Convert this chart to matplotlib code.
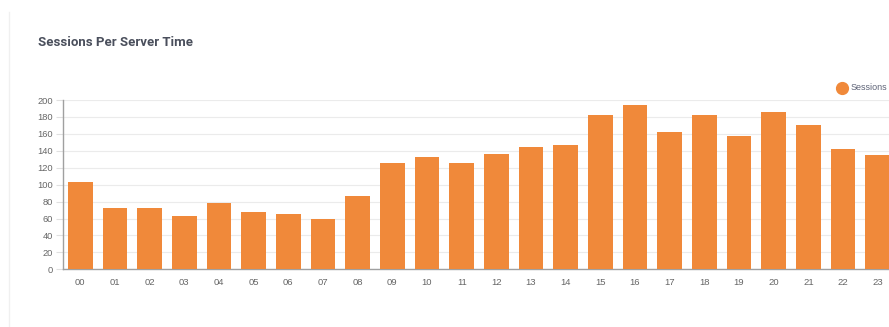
import matplotlib
matplotlib.use("Agg")
import matplotlib.pyplot as plt
from matplotlib.lines import Line2D

hours = ["00", "01", "02", "03", "04", "05", "06", "07", "08", "09", "10", "11",
         "12", "13", "14", "15", "16", "17", "18", "19", "20", "21", "22", "23"]
sessions = [103, 73, 73, 63, 78, 68, 65, 59, 87, 125, 133, 126,
            136, 144, 147, 182, 194, 162, 182, 158, 186, 170, 142, 135]
yticks = [0, 20, 40, 60, 80, 100, 120, 140, 160, 180, 200]

W, H = 889, 327
fig = plt.figure(figsize=(W / 100, H / 100), dpi=100)
fig.patch.set_facecolor("white")

left, right = 63, 895
top, bottom = 100, 269.3
ax = fig.add_axes([left / W, (H - bottom) / H, (right - left) / W, (bottom - top) / H])

bar_color = "#F0893A"
x = list(range(len(hours)))
ax.bar(x, sessions, width=0.71, color=bar_color, zorder=3)

ax.set_xlim(-0.5, len(hours) - 0.5)
ax.set_ylim(0, 200)
ax.set_yticks(yticks)
ax.set_xticks(x)
ax.set_xticklabels(hours)
ax.grid(axis="y", color="#ebebeb", linewidth=0.8, zorder=0)
ax.grid(axis="x", visible=False)

for s in ["top", "right"]:
    ax.spines[s].set_visible(False)
ax.spines["left"].set_color("#a0a0a0")
ax.spines["bottom"].set_color("#a0a0a0")
ax.spines["left"].set_linewidth(1.0)
ax.spines["bottom"].set_linewidth(1.0)

ax.tick_params(axis="y", length=5, color="#e0e0e0", pad=2, labelsize=6.7, labelcolor="#666666")
ax.tick_params(axis="x", length=0, pad=6.5, labelsize=6.8, labelcolor="#666666")
for lab in ax.get_xticklabels() + ax.get_yticklabels():
    lab.set_fontfamily("Liberation Sans")

fig.text(38 / W, 1 - 42 / H, "Sessions Per Server Time", fontsize=9.5, fontweight="bold",
         color="#4a4f5c", fontfamily="Roboto", va="center", ha="left")

# legend
fig.add_artist(Line2D([842 / W], [1 - 88 / H], marker="o", markersize=8.5,
                      color=bar_color, linestyle="none", transform=fig.transFigure))
fig.text(851 / W, 1 - 88 / H, "Sessions", fontsize=6.5, color="#5f6478",
         fontfamily="Liberation Sans", va="center", ha="left")

# card border
fig.add_artist(Line2D([8.5 / W, 8.5 / W], [0, 1 - 12 / H], color="#f0f0f0",
                      linewidth=1, transform=fig.transFigure))

fig.savefig("out.png", dpi=100, facecolor="white")
